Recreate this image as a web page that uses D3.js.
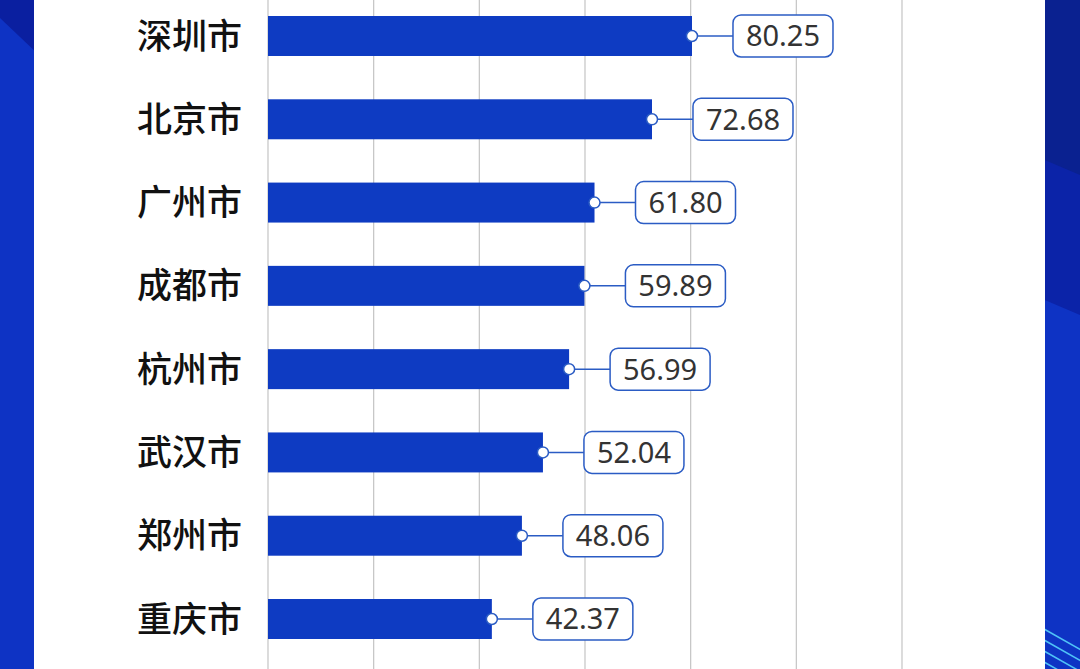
<!DOCTYPE html>
<html>
<head>
<meta charset="utf-8">
<script src="https://cdn.jsdelivr.net/npm/d3@7"></script>
<style>
  html, body { margin: 0; padding: 0; background: #0e33c4; }
  svg { display: block; }
</style>
</head>
<body>
<div id="chart"></div>
<script>
// data
var cities = ["深圳市", "北京市", "广州市", "成都市", "杭州市", "武汉市", "郑州市", "重庆市"];
var values = [80.25, 72.68, 61.80, 59.89, 56.99, 52.04, 48.06, 42.37];
var gridTicks = [0, 20, 40, 60, 80, 100, 120];

var W = 1080, H = 669;
var panelLeft = 34, panelRight = 1045;

var svg = d3.select("#chart").append("svg")
  .attr("width", W)
  .attr("height", H);

// blue backdrop, with the darker shapes on both edges
svg.append("rect").attr("width", W).attr("height", H).attr("fill", "#0e33c4");
svg.append("polygon")
  .attr("points", "0,0 40,0 40,56 0,18")
  .attr("fill", "#0a1fa0");
svg.append("polygon")
  .attr("points", "1040,0 1080,0 1080,315 1040,298")
  .attr("fill", "#0b23a8");
svg.append("polygon")
  .attr("points", "1040,0 1080,0 1080,175 1040,158")
  .attr("fill", "#0a2190");
// cyan stripes bottom right
[629, 640, 651, 662].forEach(function(y0) {
  svg.append("line")
    .attr("x1", 1044).attr("y1", y0)
    .attr("x2", 1090).attr("y2", y0 + 26)
    .attr("stroke", "#4fc3f7")
    .attr("stroke-width", 1.5);
});

// white card
svg.append("rect")
  .attr("x", panelLeft).attr("y", 0)
  .attr("width", panelRight - panelLeft).attr("height", H)
  .attr("fill", "#ffffff");

var x = d3.scaleLinear()
  .domain([0, 120])
  .range([268, 902]);

var y = d3.scaleBand()
  .domain(cities)
  .range([-5.645, 660.645])
  .paddingInner(0.52)
  .paddingOuter(0.26);

// vertical grid lines
svg.append("g")
  .selectAll("line")
  .data(gridTicks)
  .enter()
  .append("line")
  .attr("x1", function(d) { return x(d); })
  .attr("x2", function(d) { return x(d); })
  .attr("y1", 0)
  .attr("y2", H)
  .attr("stroke", "#c4c4c4")
  .attr("stroke-width", 1.2);

// category labels
svg.append("g")
  .selectAll("text")
  .data(cities)
  .enter()
  .append("text")
  .text(function(d) { return d; })
  .attr("x", 242)
  .attr("y", function(d) { return y(d) + y.bandwidth() / 2; })
  .attr("dy", "0.36em")
  .attr("text-anchor", "end")
  .attr("font-family", "'Noto Sans CJK SC', sans-serif")
  .attr("font-weight", 500)
  .attr("font-size", "35px")
  .attr("fill", "#111111");

// bars
svg.append("g")
  .selectAll("rect")
  .data(values)
  .enter()
  .append("rect")
  .attr("x", x(0))
  .attr("y", function(d, i) { return y(cities[i]); })
  .attr("width", function(d) { return x(d) - x(0); })
  .attr("height", y.bandwidth())
  .attr("fill", "#0e3bc2");

// value callouts: connector, dot, rounded box, number
var callout = svg.append("g")
  .selectAll("g")
  .data(values)
  .enter()
  .append("g")
  .attr("transform", function(d, i) {
    return "translate(" + x(d) + "," + (y(cities[i]) + y.bandwidth() / 2) + ")";
  });

callout.append("line")
  .attr("x1", 0).attr("y1", 0)
  .attr("x2", 41).attr("y2", 0)
  .attr("stroke", "#2b5cc4")
  .attr("stroke-width", 1.5);

callout.append("rect")
  .attr("x", 41)
  .attr("y", -21)
  .attr("width", 100)
  .attr("height", 42)
  .attr("rx", 8)
  .attr("fill", "#ffffff")
  .attr("stroke", "#2b5cc4")
  .attr("stroke-width", 1.5);

callout.append("circle")
  .attr("r", 5.5)
  .attr("fill", "#ffffff")
  .attr("stroke", "#2b5cc4")
  .attr("stroke-width", 1.5);

callout.append("text")
  .text(function(d) { return d.toFixed(2); })
  .attr("x", 91)
  .attr("y", 0)
  .attr("dy", "0.36em")
  .attr("text-anchor", "middle")
  .attr("font-family", "'Noto Sans', sans-serif")
  .attr("font-size", "29px")
  .attr("fill", "#333333");
</script>
</body>
</html>
